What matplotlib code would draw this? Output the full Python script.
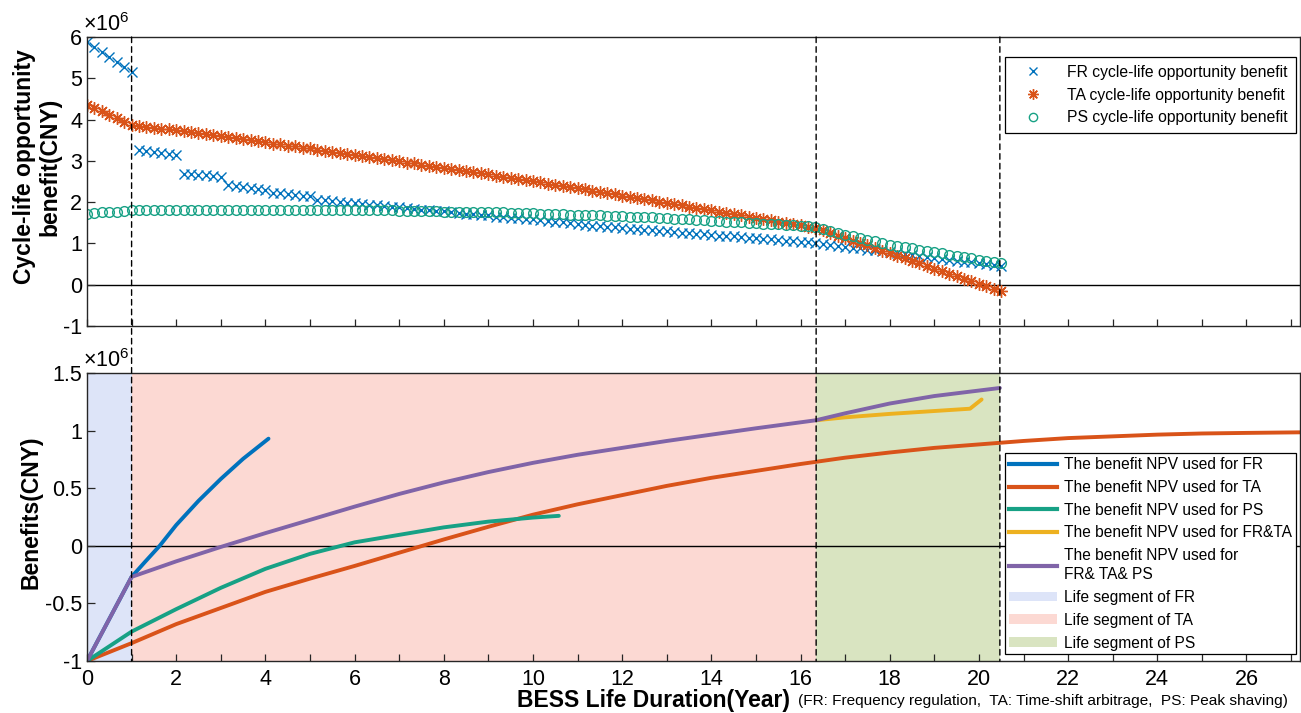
import numpy as np
import matplotlib
matplotlib.use('Agg')
import matplotlib.pyplot as plt
from matplotlib.patches import ConnectionPatch, Patch
from matplotlib.lines import Line2D
from matplotlib.ticker import MultipleLocator, FuncFormatter

plt.rcParams['font.family'] = ['Liberation Sans', 'DejaVu Sans']
plt.rcParams['mathtext.fontset'] = 'custom'
plt.rcParams['mathtext.rm'] = 'Liberation Sans'

# ---------------- data (values in 10^6 CNY) ----------------
# cycle-life opportunity benefit, sampled every 2 months (1/6 year)
cycle_years = [k / 6 for k in range(124)]

fr_cycle = [5.88, 5.76, 5.64, 5.52, 5.40, 5.28, 5.16,
            3.27, 3.24, 3.22, 3.19, 3.17, 3.15,
            2.69, 2.68, 2.66, 2.65, 2.63, 2.62,
            2.42, 2.40, 2.37, 2.35, 2.32, 2.30,
            2.22, 2.21, 2.19, 2.17, 2.16, 2.14,
            2.05, 2.04, 2.02, 2.01, 1.99, 1.98,
            1.95, 1.94, 1.92, 1.91, 1.89, 1.88,
            1.85, 1.84, 1.82, 1.81, 1.79, 1.78,
            1.75, 1.74, 1.72, 1.71, 1.69, 1.68,
            1.65, 1.64, 1.62, 1.61, 1.59, 1.58,
            1.56, 1.55, 1.53, 1.51, 1.49, 1.47,
            1.45, 1.43, 1.42, 1.40, 1.39, 1.38,
            1.36, 1.35, 1.33, 1.32, 1.31, 1.29,
            1.28, 1.26, 1.25, 1.24, 1.22, 1.21,
            1.19, 1.18, 1.17, 1.15, 1.14, 1.12,
            1.11, 1.10, 1.08, 1.07, 1.05, 1.04,
            1.03, 1.01,
            0.99, 0.97, 0.94, 0.92, 0.90, 0.88,
            0.85, 0.83, 0.81, 0.79, 0.76, 0.74,
            0.72, 0.70, 0.67, 0.65, 0.63, 0.61,
            0.58, 0.56, 0.54, 0.52, 0.49, 0.47,
            0.45]

ta_cycle = [4.36, 4.28, 4.20, 4.12, 4.04, 3.95, 3.87,
            3.84, 3.82, 3.80, 3.78, 3.77, 3.75,
            3.72, 3.70, 3.67, 3.65, 3.62, 3.60,
            3.57, 3.55, 3.52, 3.50, 3.47, 3.45,
            3.42, 3.40, 3.37, 3.35, 3.32, 3.30,
            3.27, 3.25, 3.22, 3.20, 3.17, 3.15,
            3.12, 3.10, 3.07, 3.04, 3.02, 2.99,
            2.96, 2.94, 2.91, 2.88, 2.86, 2.83,
            2.80, 2.78, 2.75, 2.72, 2.70, 2.67,
            2.64, 2.61, 2.59, 2.56, 2.53, 2.51,
            2.48, 2.45, 2.42, 2.40, 2.37, 2.34,
            2.31, 2.28, 2.25, 2.22, 2.19, 2.16,
            2.13, 2.10, 2.07, 2.04, 2.01, 1.98,
            1.95, 1.92, 1.89, 1.86, 1.83, 1.80,
            1.77, 1.74, 1.71, 1.68, 1.65, 1.62,
            1.59, 1.56, 1.53, 1.50, 1.47, 1.44,
            1.41, 1.38,
            1.32, 1.26, 1.19, 1.13, 1.07, 1.01,
            0.95, 0.89, 0.82, 0.76, 0.70, 0.64,
            0.58, 0.52, 0.45, 0.39, 0.33, 0.27,
            0.21, 0.15, 0.08, 0.02, -0.04, -0.10,
            -0.16]

ps_cycle = [1.72, 1.73, 1.75, 1.76, 1.77, 1.79, 1.80,
            1.80, 1.80, 1.80, 1.80, 1.80, 1.80,
            1.80, 1.80, 1.80, 1.80, 1.80, 1.80,
            1.80, 1.81, 1.81, 1.81, 1.81, 1.81,
            1.82, 1.82, 1.82, 1.82, 1.82, 1.82,
            1.82, 1.82, 1.81, 1.81, 1.81, 1.81,
            1.81, 1.80, 1.80, 1.80, 1.80, 1.79,
            1.79, 1.79, 1.78, 1.78, 1.78, 1.77,
            1.77, 1.77, 1.76, 1.76, 1.76, 1.75,
            1.75, 1.75, 1.74, 1.74, 1.73, 1.73,
            1.72, 1.72, 1.71, 1.71, 1.70, 1.70,
            1.69, 1.69, 1.68, 1.67, 1.67, 1.66,
            1.65, 1.64, 1.64, 1.63, 1.62, 1.61,
            1.60, 1.59, 1.58, 1.57, 1.56, 1.55,
            1.54, 1.53, 1.52, 1.51, 1.50, 1.49,
            1.48, 1.47, 1.46, 1.45, 1.44, 1.43,
            1.42, 1.40,
            1.35, 1.30, 1.25, 1.21, 1.17, 1.13,
            1.09, 1.05, 1.01, 0.97, 0.94, 0.91,
            0.88, 0.85, 0.82, 0.79, 0.76, 0.73,
            0.70, 0.67, 0.64, 0.61, 0.58, 0.55,
            0.52]

# benefit NPV curves
fr_npv_t = [0, 1, 1.3, 1.63, 2, 2.5, 3, 3.5, 4.07]
fr_npv_v = [-1, -0.27, -0.14, 0, 0.18, 0.39, 0.58, 0.755, 0.93]

ta_npv_t = [0, 1, 2, 3, 4, 5, 6, 7, 8, 9, 10, 11, 12, 13, 14, 15, 16, 17,
            18, 19, 20, 21, 22, 23, 24, 25, 26, 27.2]
ta_npv_v = [-1, -0.845, -0.68, -0.54, -0.40, -0.285, -0.175, -0.06, 0.055,
            0.165, 0.27, 0.36, 0.44, 0.52, 0.59, 0.65, 0.71, 0.765, 0.81,
            0.85, 0.88, 0.91, 0.935, 0.95, 0.965, 0.975, 0.98, 0.985]

ps_npv_t = [0, 1, 2, 3, 4, 5, 6, 7, 8, 9, 10, 10.58]
ps_npv_v = [-1, -0.745, -0.55, -0.365, -0.20, -0.07, 0.03, 0.095, 0.16,
            0.21, 0.245, 0.26]

frta_npv_t = [16.35, 17, 18, 19, 19.8, 20.06]
frta_npv_v = [1.09, 1.115, 1.145, 1.17, 1.19, 1.27]

all_npv_t = [0, 1, 2, 3, 4, 5, 6, 7, 8, 9, 10, 11, 12, 13, 14, 15, 16.35,
             17, 18, 19, 20.47]
all_npv_v = [-1, -0.27, -0.135, -0.01, 0.11, 0.225, 0.34, 0.45, 0.55, 0.64,
             0.72, 0.79, 0.85, 0.91, 0.965, 1.02, 1.09, 1.15, 1.235, 1.30,
             1.37]

# life segments (years)
seg_bounds = [0, 1, 16.35, 20.47]
seg_labels = ['Life segment of FR', 'Life segment of TA', 'Life segment of PS']

# ---------------- styles ----------------
c_blue = '#0072BD'
c_orange = '#D95319'
c_green = '#17A185'
c_yellow = '#EDB120'
c_purple = '#8064A8'
seg_colors = ['#DDE4F8', '#FCD9D3', '#D9E4C1']
spine_c = '#262626'

W, H = 1301, 713
fig = plt.figure(figsize=(W / 100, H / 100), dpi=100)


def px_box(l, t, r, b):
    return [l / W, 1 - b / H, (r - l) / W, (b - t) / H]


ax1 = fig.add_axes(px_box(87, 37, 1300, 326))
ax2 = fig.add_axes(px_box(87, 373, 1300, 661))

xmax = 27.2
tick_fs = 15.5

# ---- top axes ----
ax1.plot(cycle_years, fr_cycle, linestyle='none', marker='x', ms=7, mew=1.0,
         color=c_blue, label='FR cycle-life opportunity benefit')
ax1.plot(cycle_years, ta_cycle, linestyle='none', marker=(8, 2, 0), ms=9,
         mew=1.0, color=c_orange, label='TA cycle-life opportunity benefit')
ax1.plot(cycle_years, ps_cycle, linestyle='none', marker='o', ms=7,
         mew=1.0, mfc='none', color=c_green,
         label='PS cycle-life opportunity benefit')
ax1.axhline(0, color='k', lw=1.0, zorder=1)
ax1.set_xlim(0, xmax)
ax1.set_ylim(-1, 6)
ax1.xaxis.set_major_locator(MultipleLocator(1))
ax1.set_xticklabels([])
ax1.yaxis.set_major_locator(MultipleLocator(1))
ax1.yaxis.set_major_formatter(FuncFormatter(lambda v, p: f'{v:g}'))
ax1.tick_params(direction='in', length=6, width=0.9, colors=spine_c,
                labelsize=tick_fs, labelcolor='black')
ax1.tick_params(axis='x', length=5)
ax1.text(-0.003, 1.004, r'$\mathregular{×10^{6}}$', transform=ax1.transAxes,
         ha='left', va='bottom', fontsize=15.5)

leg1 = ax1.legend(loc='upper right', bbox_to_anchor=(0.9965, 0.931),
                  borderaxespad=0, fontsize=11.3, frameon=True, fancybox=False,
                  framealpha=1, edgecolor='black', handlelength=2.6,
                  handletextpad=0.9, labelspacing=0.5, borderpad=0.5,
                  markerscale=0.85)
leg1.get_frame().set_linewidth(0.9)

# ---- bottom axes ----
for i in range(3):
    ax2.axvspan(seg_bounds[i], seg_bounds[i + 1], color=seg_colors[i], lw=0,
                zorder=0)
ax2.axhline(0, color='k', lw=1.0, zorder=1)
lw = 2.8
ax2.plot(fr_npv_t, fr_npv_v, color=c_blue, lw=lw, solid_capstyle='round')
ax2.plot(ta_npv_t, ta_npv_v, color=c_orange, lw=lw, solid_capstyle='round')
ax2.plot(ps_npv_t, ps_npv_v, color=c_green, lw=lw, solid_capstyle='round')
ax2.plot(frta_npv_t, frta_npv_v, color=c_yellow, lw=lw,
         solid_capstyle='round')
ax2.plot(all_npv_t, all_npv_v, color=c_purple, lw=lw, solid_capstyle='round')
ax2.set_xlim(0, xmax)
ax2.set_ylim(-1, 1.5)
ax2.xaxis.set_major_locator(MultipleLocator(2))
ax2.xaxis.set_minor_locator(MultipleLocator(1))
ax2.yaxis.set_major_locator(MultipleLocator(0.5))
ax2.yaxis.set_major_formatter(FuncFormatter(lambda v, p: f'{v:g}'))
ax2.xaxis.set_major_formatter(FuncFormatter(lambda v, p: f'{v:g}'))
ax2.tick_params(which='both', direction='in', width=0.9, colors=spine_c,
                labelsize=tick_fs, labelcolor='black')
ax2.tick_params(axis='y', length=6)
ax2.tick_params(axis='x', which='both', length=5, pad=6)
ax2.text(-0.003, 1.004, r'$\mathregular{×10^{6}}$', transform=ax2.transAxes,
         ha='left', va='bottom', fontsize=15.5)

handles2 = [Line2D([], [], color=c_blue, lw=3),
            Line2D([], [], color=c_orange, lw=3),
            Line2D([], [], color=c_green, lw=3),
            Line2D([], [], color=c_yellow, lw=3),
            Line2D([], [], color=c_purple, lw=3)] + \
           [Patch(facecolor=c, edgecolor='none') for c in seg_colors]
labels2 = ['The benefit NPV used for FR', 'The benefit NPV used for TA',
           'The benefit NPV used for PS', 'The benefit NPV used for FR&TA',
           'The benefit NPV used for\nFR& TA& PS'] + seg_labels
leg2 = ax2.legend(handles2, labels2, loc='upper right',
                  bbox_to_anchor=(0.9965, 0.722), borderaxespad=0,
                  fontsize=11.2, frameon=True, fancybox=False, framealpha=1,
                  edgecolor='black', handlelength=3.1, handletextpad=0.45,
                  labelspacing=0.5, borderpad=0.25, handleheight=0.6)
leg2.get_frame().set_linewidth(0.9)
for t in leg2.get_texts():
    t.set_linespacing(1.35)

for ax in (ax1, ax2):
    for s in ax.spines.values():
        s.set_color(spine_c)
        s.set_linewidth(1.0)

# dashed segment boundaries across both axes
for xb in seg_bounds[1:]:
    cp = ConnectionPatch(xyA=(xb, 6), coordsA=ax1.transData,
                         xyB=(xb, -1), coordsB=ax2.transData,
                         color='black', lw=1.0, linestyle=(0, (4, 3)),
                         zorder=5)
    fig.add_artist(cp)

# labels
fig.text(37 / W, 1 - 167 / H, 'Cycle-life opportunity\nbenefit(CNY)',
         rotation=90, ha='center', va='center', fontsize=16.5,
         fontweight='bold', multialignment='center', linespacing=1.15)
fig.text(31 / W, 1 - 512 / H, 'Benefits(CNY)', rotation=90, ha='center',
         va='center', fontsize=16.5, fontweight='bold')
fig.text(790 / W, 1 - 701 / H, 'BESS Life Duration(Year)', ha='right',
         va='center', fontsize=16.5, fontweight='bold')
fig.text(798 / W, 1 - 701 / H,
         '(FR: Frequency regulation,  TA: Time-shift arbitrage,  PS: Peak shaving)',
         ha='left', va='center', fontsize=11.1)

fig.savefig('out.png', dpi=100)
